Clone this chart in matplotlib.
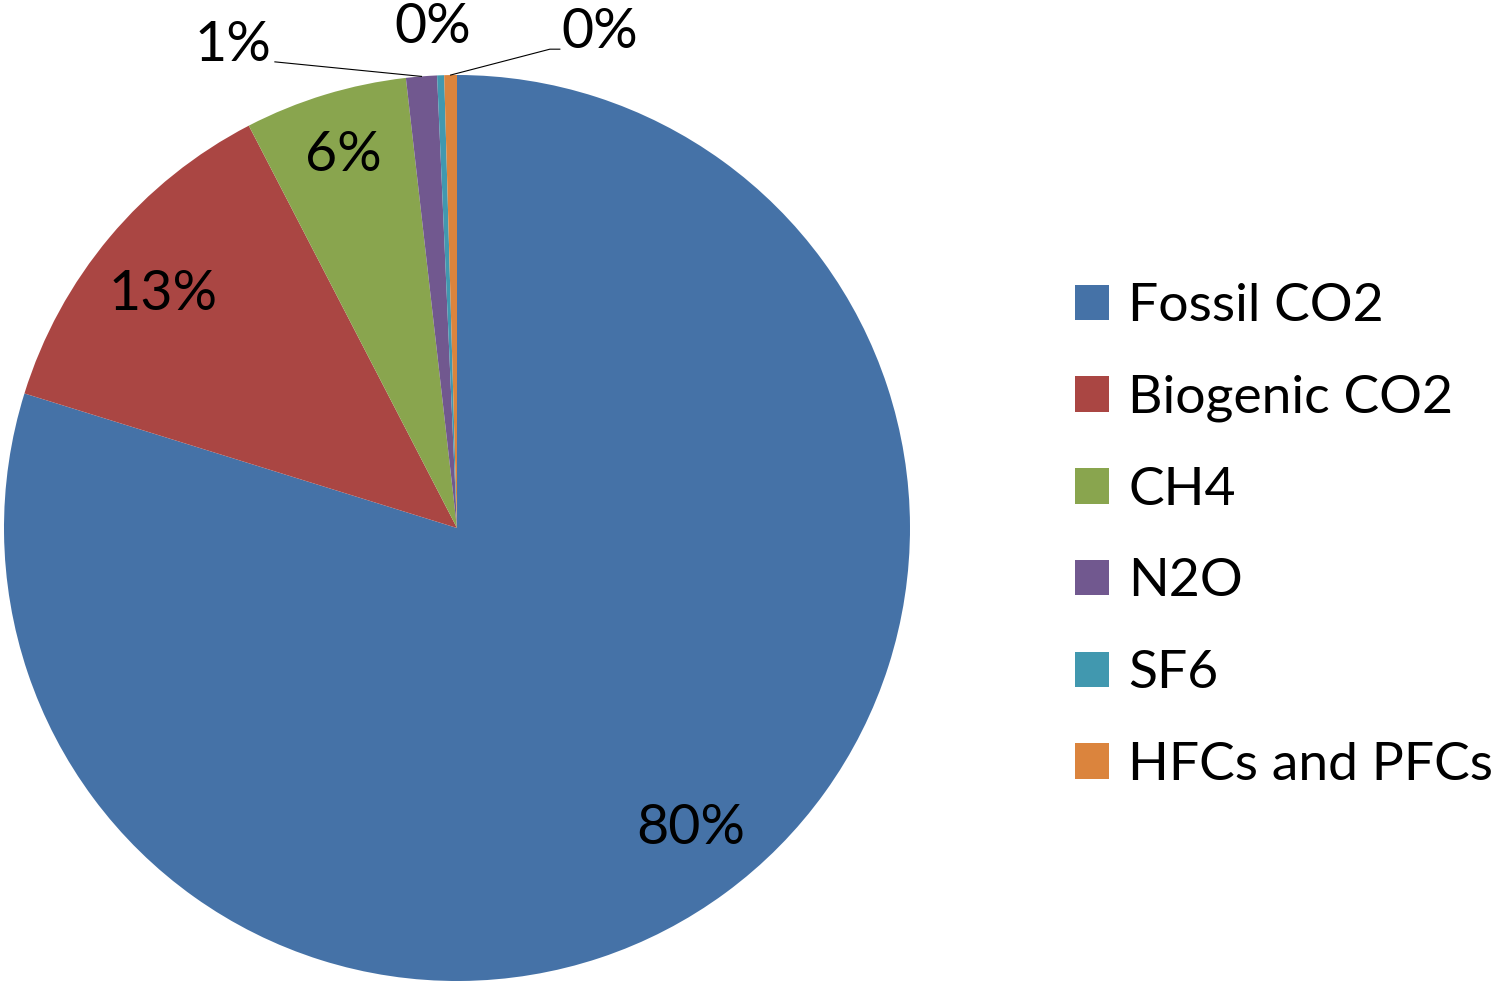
import numpy as np
import matplotlib
matplotlib.use("Agg")
import matplotlib.pyplot as plt

categories = ["Fossil CO2", "Biogenic CO2", "CH4", "N2O", "SF6", "HFCs and PFCs"]
values = [79.8, 12.6, 5.8, 1.1, 0.25, 0.45]
colors = ["#4572A7", "#AA4643", "#89A54E", "#71588F", "#4198AF", "#DB843D"]

FONT = "Lato"
FS = 40
LFS = 38.5

W, H = 1496, 985
fig = plt.figure(figsize=(W / 100, H / 100), dpi=100)
cx, cy, R = 457, 528, 453
ax = fig.add_axes([(cx - R) / W, (H - cy - R) / H, 2 * R / W, 2 * R / H])

wedges, _ = ax.pie(values, colors=colors, startangle=90, counterclock=False,
                   radius=1.0, wedgeprops=dict(linewidth=0))
ax.set_xlim(-1, 1)
ax.set_ylim(-1, 1)
ax.set_aspect("equal")
ax.axis("off")

total = sum(values)
labels = ["%.0f%%" % (v / total * 100) for v in values]

def mid(w, shift=0.0):
    a = np.deg2rad((w.theta1 + w.theta2) / 2 + shift)
    return np.cos(a), np.sin(a)

# inside labels (radius factor, angular shift in degrees)
inside = [(0.84, 1.5), (0.83, 1.5), (0.86, 0.0)]
for i in range(3):
    r, s = inside[i]
    x, y = mid(wedges[i], s)
    ax.text(x * r, y * r, labels[i], ha="center", va="center",
            fontsize=FS, family=FONT, color="black")

# outside labels
x3, y3 = mid(wedges[3])
ax.text(-0.494, 1.066, labels[3], ha="center", va="center", fontsize=FS, family=FONT, clip_on=False)
ax.plot([x3, -0.402], [y3, 1.029], color="black", lw=0.8, clip_on=False)

ax.text(-0.053, 1.104, labels[4], ha="center", va="center", fontsize=FS, family=FONT, clip_on=False)

x5, y5 = mid(wedges[5])
ax.text(0.316, 1.093, labels[5], ha="center", va="center", fontsize=FS, family=FONT, clip_on=False)
ax.plot([x5, 0.205, 0.227], [y5, 1.057, 1.057], color="black", lw=0.8, clip_on=False)

leg = fig.legend(wedges, categories, loc="upper left",
                 bbox_to_anchor=(1075 / W, 1 - 283 / H), frameon=False,
                 prop={"family": FONT, "size": LFS},
                 handlelength=0.64, handleheight=0.64, handletextpad=0.36,
                 labelspacing=0.835, borderaxespad=0, borderpad=0)

fig.savefig("out.png", dpi=100, facecolor="white")
